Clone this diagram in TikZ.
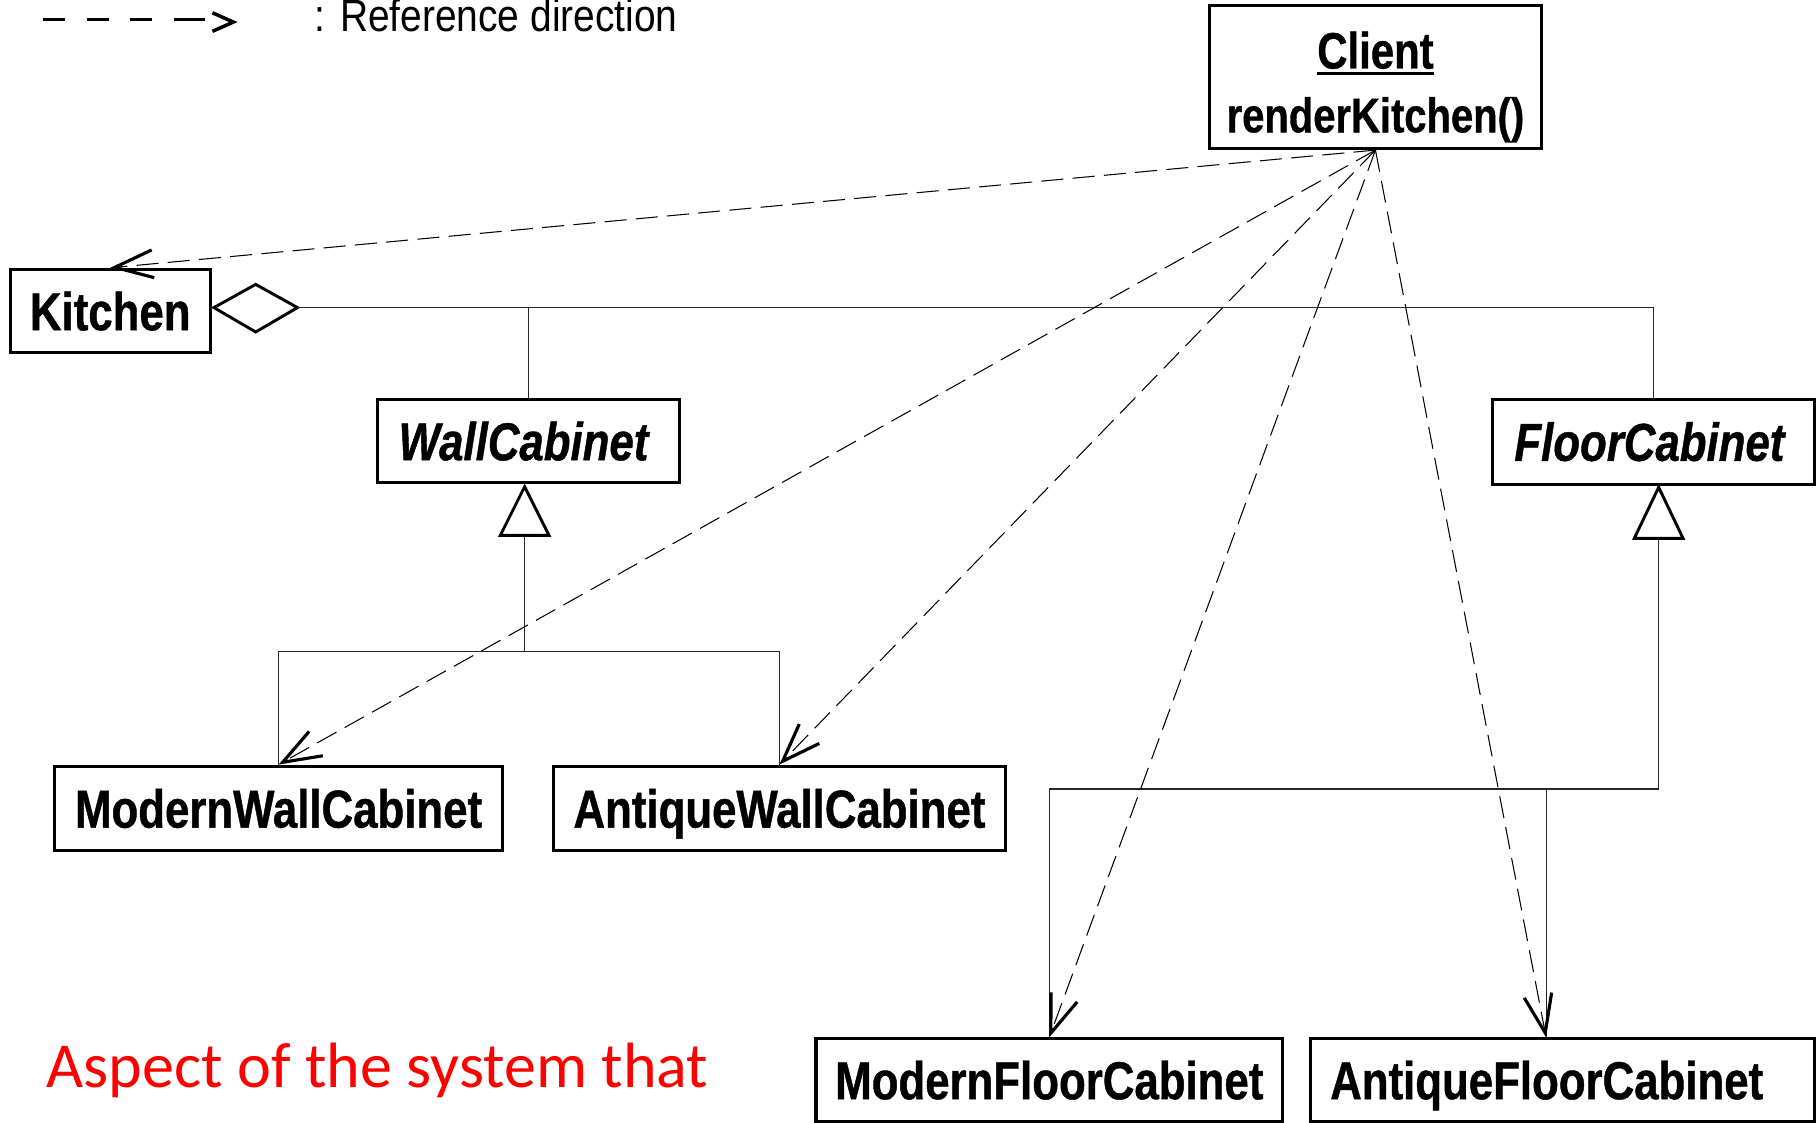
\documentclass[tikz,border=0pt]{standalone}
\usepackage{fontspec}
\setmainfont{Liberation Sans}
\newfontfamily\narrowfont{Liberation Sans}[FakeStretch=0.82, FakeBold=0.8]
\newfontfamily\legendfont{Liberation Sans}[FakeStretch=0.86]
\newfontfamily\calfont{Carlito}
\usetikzlibrary{arrows.meta,calc}

\begin{document}
\begin{tikzpicture}[x=1pt,y=-1pt,
  classbox/.style={draw, line width=2.6pt, fill=white, inner sep=0pt,
    font=\narrowfont\bfseries\fontsize{46}{50}\selectfont,
    text height=33pt, text depth=0pt},
  abstractbox/.style={classbox,
    font=\narrowfont\bfseries\itshape\fontsize{46}{50}\selectfont},
  label/.style={inner sep=0pt, anchor=base},
  link/.style={line width=1pt, draw=black!85},
  ref/.style={line width=0.9pt, dash pattern=on 19pt off 8pt,
    -{Straight Barb[length=33pt,width=24pt,line width=2.7pt]}},
  hollow/.style={line width=2.5pt, fill=white, line join=miter}
]
\useasboundingbox (0,0) rectangle (1568,967);

% legend
\coordinate (lgA) at (37,17);
\coordinate (lgB) at (178,17);
\draw[line width=3pt, dash pattern=on 19pt off 19pt on 19pt off 18pt on 19pt off 19pt on 27pt off 5pt] (lgA) -- (lgB);
\draw[line width=3pt] (183,11) -- (201,19) -- (183,27);
\node[inner sep=0pt, anchor=base west, font=\legendfont\fontsize{39}{44}\selectfont] (legendtext) at (271,27) {: Reference direction};

% classes
\node[draw, line width=2.6pt, minimum width=286pt, minimum height=123pt] (client) at (1185,66.5) {};
\node[label, font=\narrowfont\bfseries\fontsize{44}{50}\selectfont] (clientname) at (1185,59) {Client};
\draw[line width=2.5pt] ($(clientname.base west)+(0,4)$) -- ($(clientname.base east)+(0,4)$);
\node[label, font=\narrowfont\bfseries\fontsize{42}{48}\selectfont] (clientop) at (1185,114) {renderKitchen()};

\node[classbox, minimum width=172pt, minimum height=72pt] (kitchen) at (95,268) {Kitchen};
\node[abstractbox, minimum width=260pt, minimum height=72pt] (wall) at (455,380) {\hspace*{-8pt}WallCabinet};
\node[abstractbox, minimum width=277pt, minimum height=73pt] (floor) at (1424.5,380.5) {\hspace*{-7pt}FloorCabinet};
\node[classbox, minimum width=386pt, minimum height=73pt] (mwc) at (240,696.5) {ModernWallCabinet};
\node[classbox, minimum width=389pt, minimum height=73pt] (awc) at (671.5,696.5) {AntiqueWallCabinet};
\node[classbox, minimum width=402pt, minimum height=71pt] (mfc) at (904,930.5) {ModernFloorCabinet};
\node[classbox, minimum width=434pt, minimum height=71pt] (afc) at (1346,930.5) {\hspace*{-27pt}AntiqueFloorCabinet};

% aggregation: Kitchen holds the cabinets
\coordinate (dleft) at ($(kitchen.east)+(2,-3)$);
\draw[link] (wall.north) -- (wall.north |- dleft);
\draw[hollow] (dleft) -- ++(36,-20) -- ++(36,20) coordinate (dtip) -- ++(-36,21) -- cycle;
\draw[link] (dtip) -| (floor.north);

% WallCabinet generalisation
\coordinate (wapex) at ($(wall.south)+(-3,2)$);
\coordinate (wbase) at ($(wapex)+(0,42)$);
\coordinate (wjoin) at ($(wbase)+(0,100)$);
\draw[link] (wbase) -- (wjoin);
\draw[link] (mwc.north) |- (wjoin) -| (awc.north);
\draw[hollow] (wapex) -- ++(-21,42) -- ++(42,0) -- cycle;

% FloorCabinet generalisation
\coordinate (fapex) at ($(floor.south)+(4.5,1.5)$);
\coordinate (fbase) at ($(fapex)+(0,44)$);
\coordinate (fjoin) at ($(fbase)+(0,216)$);
\coordinate (afcin) at ($(afc.north)+(-14,0)$);
\draw[link] (fbase) -- (fjoin);
\draw[link] (mfc.north) |- (fjoin);
\draw[link] (afcin) -- (afcin |- fjoin);
\draw[hollow] (fapex) -- ++(-21,44) -- ++(42,0) -- cycle;

% references from the client
\draw[ref] (client.south) -- (kitchen.north);
\draw[ref] (client.south) -- (mwc.north);
\draw[ref] (client.south) -- (awc.north);
\draw[ref] (client.south) -- (mfc.north);
\draw[ref] (client.south) -- (afcin);

% note
\node[inner sep=0pt, anchor=base west, text=red, font=\calfont\fontsize{55.2}{60}\selectfont] (aspect) at (40,937) {Aspect of the system that};
\end{tikzpicture}
\end{document}
